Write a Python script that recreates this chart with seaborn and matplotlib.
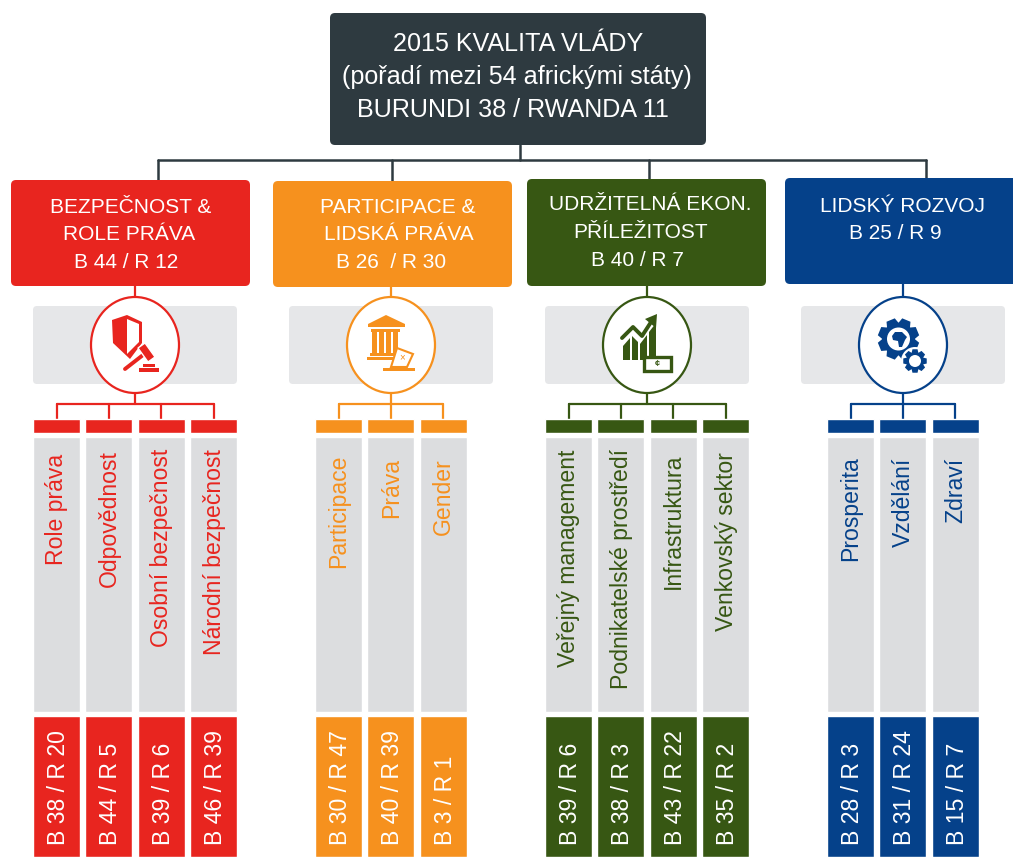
import matplotlib
matplotlib.use('Agg')

import numpy as np
import pandas as pd
import matplotlib.pyplot as plt
import seaborn as sns
from matplotlib.patches import Circle, Ellipse, FancyBboxPatch, Polygon, Rectangle

# chart text and values
title_lines = ['2015 KVALITA VLÁDY', '(pořadí mezi 54 africkými státy)', 'BURUNDI 38 / RWANDA 11']

groups = ['bezpecnost', 'participace', 'ekonomika', 'rozvoj']

header_bezpecnost = ['BEZPEČNOST &', 'ROLE PRÁVA', 'B 44 / R 12']
header_participace = ['PARTICIPACE &', 'LIDSKÁ PRÁVA', 'B 26  / R 30']
header_ekonomika = ['UDRŽITELNÁ EKON.', 'PŘÍLEŽITOST', 'B 40 / R 7']
header_rozvoj = ['LIDSKÝ ROZVOJ', 'B 25 / R 9']

labels_bezpecnost = ['Role práva', 'Odpovědnost', 'Osobní bezpečnost', 'Národní bezpečnost']
labels_participace = ['Participace', 'Práva', 'Gender']
labels_ekonomika = ['Veřejný management', 'Podnikatelské prostředí', 'Infrastruktura', 'Venkovský sektor']
labels_rozvoj = ['Prosperita', 'Vzdělání', 'Zdraví']

burundi_bezpecnost = [38, 44, 39, 46]
rwanda_bezpecnost = [20, 5, 6, 39]
burundi_participace = [30, 40, 3]
rwanda_participace = [47, 39, 1]
burundi_ekonomika = [39, 38, 43, 35]
rwanda_ekonomika = [6, 3, 22, 2]
burundi_rozvoj = [28, 31, 15]
rwanda_rozvoj = [3, 24, 7]

# colours
DARK = '#2E3A40'
BAND = '#E6E7E9'
COLUMN = '#DCDDDF'
palette = {
    'bezpecnost': '#E8251F',
    'participace': '#F6911E',
    'ekonomika': '#375713',
    'rozvoj': '#05418A',
}

# layout in image pixels
headers = {
    'bezpecnost': header_bezpecnost,
    'participace': header_participace,
    'ekonomika': header_ekonomika,
    'rozvoj': header_rozvoj,
}
sub_labels = {
    'bezpecnost': labels_bezpecnost,
    'participace': labels_participace,
    'ekonomika': labels_ekonomika,
    'rozvoj': labels_rozvoj,
}
burundi = {
    'bezpecnost': burundi_bezpecnost,
    'participace': burundi_participace,
    'ekonomika': burundi_ekonomika,
    'rozvoj': burundi_rozvoj,
}
rwanda = {
    'bezpecnost': rwanda_bezpecnost,
    'participace': rwanda_participace,
    'ekonomika': rwanda_ekonomika,
    'rozvoj': rwanda_rozvoj,
}
box_rect = {
    'bezpecnost': (11, 180, 239, 106),
    'participace': (273, 181, 239, 106),
    'ekonomika': (527, 179, 239, 107),
    'rozvoj': (785, 178, 240, 106),
}
drop_x = {'bezpecnost': 158, 'participace': 392, 'ekonomika': 649, 'rozvoj': 926}
circle_x = {'bezpecnost': 135, 'participace': 391, 'ekonomika': 647, 'rozvoj': 903}
band_x = {'bezpecnost': 33, 'participace': 289, 'ekonomika': 545, 'rozvoj': 801}
first_col = {'bezpecnost': 33, 'participace': 315, 'ekonomika': 545, 'rozvoj': 827}
header_x = {
    'bezpecnost': [131, 129, 126],
    'participace': [398, 399, 391],
    'ekonomika': [650, 641, 637],
    'rozvoj': [902, 895],
}
header_y = {
    'bezpecnost': [207, 234, 262],
    'participace': [207, 234, 262],
    'ekonomika': [204, 232, 260],
    'rozvoj': [206, 233],
}
label_top = {
    'bezpecnost': [454, 450, 449, 449],
    'participace': [455, 458, 458],
    'ekonomika': [450, 449, 454, 452],
    'rozvoj': [456, 458, 458],
}
COL_PITCH = 52.4
COL_WIDTH = 47


def rounded_box(ax, x, y, w, h, color, radius=5, zorder=2):
    ax.add_patch(FancyBboxPatch((x, y), w, h, boxstyle=f'round,pad=0,rounding_size={radius}',
                                fc=color, ec='none', zorder=zorder))


def build_columns():
    rows = []
    for group in groups:
        for i, label in enumerate(sub_labels[group]):
            rows.append({
                'group': group,
                'pos': first_col[group] + COL_WIDTH / 2 + i * COL_PITCH,
                'label': label,
                'top': label_top[group][i],
                'burundi': burundi[group][i],
                'rwanda': rwanda[group][i],
            })
    return pd.DataFrame(rows)


def draw_column_bars(ax, data, top, bottom, use_hue=True):
    # bars hang down from top because the y axis is inverted
    data = data.assign(span=bottom - top)
    kwargs = {'hue': 'group', 'palette': palette, 'dodge': False, 'legend': False} if use_hue else {'color': COLUMN}
    sns.barplot(data=data, x='pos', y='span', bottom=top, native_scale=True, width=COL_WIDTH / COL_PITCH,
                errorbar=None, saturation=1, ax=ax, zorder=2, **kwargs)


def gear(ax, cx, cy, r_out, r_in, r_hole, teeth, color, phase=0.0):
    # gear outline made of one trapezoid tooth per step
    pts = []
    step = 2 * np.pi / teeth
    for i in range(teeth):
        a = phase + i * step
        for da, r in [(-0.30, r_in), (-0.17, r_out), (0.17, r_out), (0.30, r_in)]:
            pts.append((cx + r * np.cos(a + da * step * 1.6), cy + r * np.sin(a + da * step * 1.6)))
    ax.add_patch(Polygon(pts, closed=True, fc=color, ec='none', zorder=6))
    ax.add_patch(Circle((cx, cy), r_hole, fc='white', ec='none', zorder=7))


def icon_shield(ax, c):
    ax.add_patch(Polygon([(112, 320), (127, 315), (142, 322), (142, 343), (130, 359), (113, 343)],
                         closed=True, fc=c, ec='none', zorder=6))
    ax.add_patch(Polygon([(127, 319), (139, 324), (139, 342), (127, 354)], closed=True, fc='white', ec='none', zorder=7))
    ax.plot([125, 143], [369, 355], color=c, lw=2.8, solid_capstyle='round', zorder=9)
    ax.add_patch(Polygon([(138, 348), (145, 343), (155, 357), (148, 362)], closed=True, fc=c, ec='white', lw=1, zorder=9))
    ax.add_patch(Rectangle((143, 364), 12, 3, fc=c, ec='none', zorder=9))
    ax.add_patch(Rectangle((139, 368), 20, 3.5, fc=c, ec='none', zorder=9))


def icon_bank(ax, c):
    ax.add_patch(Polygon([(368, 324), (386, 315), (405, 324), (405, 327), (368, 327)], closed=True, fc=c, ec='none', zorder=6))
    ax.add_patch(Rectangle((371, 329), 29, 2.5, fc=c, ec='none', zorder=6))
    for x in [372, 379, 386, 393]:
        ax.add_patch(Rectangle((x, 332), 4.5, 21, fc=c, ec='none', zorder=6))
    ax.add_patch(Rectangle((370, 353), 30, 2.5, fc=c, ec='none', zorder=6))
    ax.add_patch(Rectangle((367, 357), 33, 3, fc=c, ec='none', zorder=6))
    ax.add_patch(Polygon([(397, 348), (413, 354), (407, 367), (391, 367)], closed=True, fc='white', ec=c, lw=1.5, zorder=7))
    ax.text(402, 357, '×', color=c, fontsize=7, ha='center', va='center', zorder=8)
    ax.add_patch(Rectangle((383, 368), 32, 3, fc=c, ec='none', zorder=8))


def icon_chart(ax, c):
    # bars cut off along the rising line
    bars = [[(623, 360), (623, 346), (630, 338), (630, 360)],
            [(632, 360), (632, 336), (638, 342), (638, 360)],
            [(640, 360), (640, 344), (647, 335), (647, 360)],
            [(649, 360), (649, 332), (656, 323), (656, 360)]]
    for pts in bars:
        ax.add_patch(Polygon(pts, closed=True, fc=c, ec='none', zorder=6))
    ax.plot([622, 633, 642, 653], [338, 327, 336, 319], color=c, lw=2.8, zorder=8)
    ax.add_patch(Polygon([(657, 314), (656, 328), (645, 319)], closed=True, fc=c, ec='none', zorder=8))
    ax.add_patch(Rectangle((644, 356.5), 26.5, 14, fc='white', ec=c, lw=2.4, zorder=8))
    ax.text(657, 363.5, '¢', color=c, fontsize=6.5, fontweight='bold', ha='center', va='center', zorder=9)


def icon_gears(ax, c):
    gear(ax, 898.5, 339, 21, 16.5, 11.5, 8, c, phase=np.pi / 8)
    # Africa in the hole of the big gear
    ax.add_patch(Polygon([(892, 336), (895, 332), (902, 332), (907, 337), (905, 340), (902, 347), (899, 347),
                          (898, 341), (893, 340)], closed=True, fc=c, ec='none', zorder=8))
    ax.add_patch(Circle((915, 361), 14, fc='white', ec='none', zorder=6))
    gear(ax, 915, 361, 12, 9, 6, 8, c)


sns.set_theme(style='white')
plt.rcParams['font.family'] = ['Liberation Sans', 'DejaVu Sans']

fig = plt.figure(figsize=(10.13, 8.57), dpi=100)
ax = fig.add_axes([0, 0, 1, 1])

columns = build_columns()

# the three rows of columns
draw_column_bars(ax, columns, 419, 433)
draw_column_bars(ax, columns, 437, 712, use_hue=False)
draw_column_bars(ax, columns, 716, 857)

ax.set_xlim(0, 1013)
ax.set_ylim(857, 0)
ax.axis('off')

# top box and its connectors
ax.plot([520, 520], [145, 160], color=DARK, lw=1.8, zorder=1)
ax.plot([158, 926], [160, 160], color=DARK, lw=1.8, zorder=1)
rounded_box(ax, 330, 13, 376, 132, DARK)
for line, x, y in zip(title_lines, [518, 517, 513], [43.5, 77, 110]):
    ax.text(x, y, line, color='white', fontsize=18.1, ha='center', va='center', zorder=3)

for group in groups:
    color = palette[group]
    x, y, w, h = box_rect[group]
    cx = circle_x[group]

    ax.plot([drop_x[group], drop_x[group]], [160, y + 1], color=DARK, lw=1.8, zorder=1)
    rounded_box(ax, x, y, w, h, color)
    for line, tx, ty in zip(headers[group], header_x[group], header_y[group]):
        ax.text(tx, ty, line, color='white', fontsize=15.05, ha='center', va='center', zorder=3)

    # grey band with the icon circle
    rounded_box(ax, band_x[group], 306, 204, 78, BAND, radius=4, zorder=1)
    ax.plot([cx, cx], [y + h, 297], color=color, lw=1.6, zorder=1)
    ax.add_patch(Ellipse((cx, 345), 88, 96, fc='white', ec=color, lw=1.6, zorder=5))

    # bracket down to the columns
    cols = columns[columns['group'] == group]
    ax.plot([cx, cx], [393, 404], color=color, lw=1.6, zorder=1)
    ax.plot([cols['pos'].min(), cols['pos'].max()], [404, 404], color=color, lw=1.6, zorder=1)
    for pos in cols['pos']:
        ax.plot([pos, pos], [404, 420], color=color, lw=1.6, zorder=1)

    for row in cols.itertuples():
        ax.text(row.pos + 0.5, row.top, row.label, color=color, fontsize=16.6, rotation=90, ha='center', va='top', zorder=3)
        ax.text(row.pos + 2, 845, f'B {row.burundi} / R {row.rwanda}', color='white', fontsize=16.6, rotation=90,
                ha='center', va='bottom', zorder=3)

icon_shield(ax, palette['bezpecnost'])
icon_bank(ax, palette['participace'])
icon_chart(ax, palette['ekonomika'])
icon_gears(ax, palette['rozvoj'])

fig.savefig('out.png', dpi=100, facecolor='white')
